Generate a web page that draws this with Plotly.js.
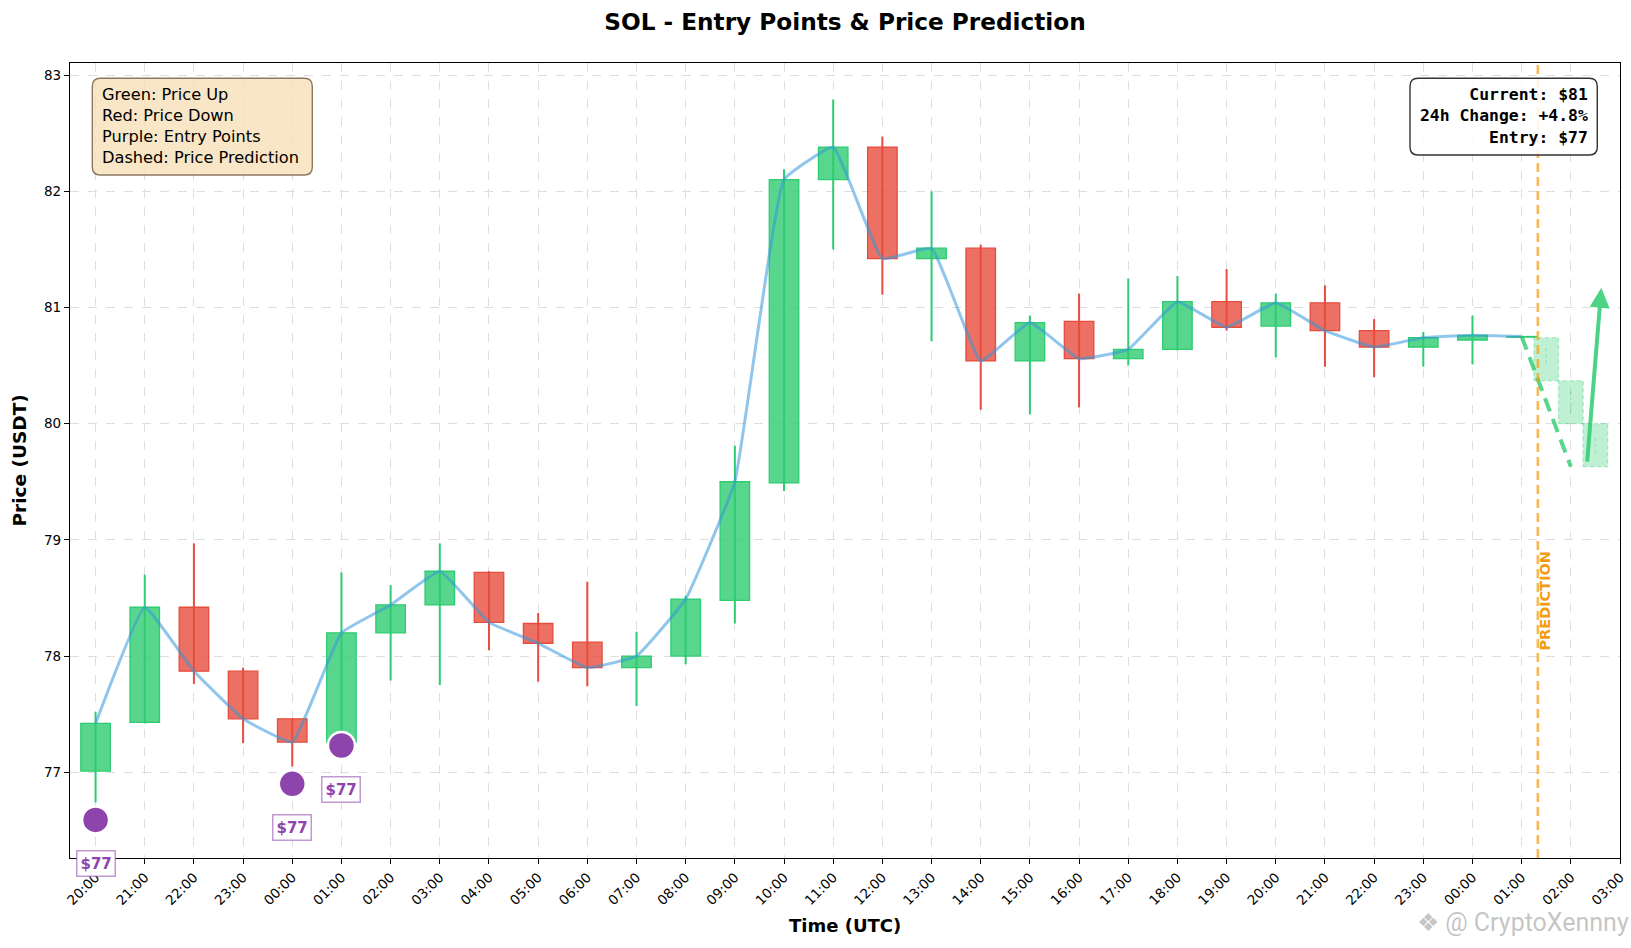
<!DOCTYPE html>
<html>
<head>
<meta charset="utf-8">
<script src="https://cdn.plot.ly/plotly-3.0.1.min.js"></script>
<style>html,body{margin:0;padding:0;background:#fff;}#chart{width:1631px;height:948px;}</style>
</head>
<body>
<div id="chart"></div>
<script>
// ---- data ----
const tickLabels = ['20:00','21:00','22:00','23:00','00:00','01:00','02:00','03:00','04:00','05:00','06:00','07:00','08:00','09:00','10:00','11:00','12:00','13:00','14:00','15:00','16:00','17:00','18:00','19:00','20:00','21:00','22:00','23:00','00:00','01:00','02:00','03:00'];
const openP  = [77.01,77.43,78.42,77.87,77.46,77.26,78.20,78.44,78.72,78.28,78.12,77.90,78.00,78.48,79.49,82.10,82.38,81.42,81.51,80.54,80.88,80.56,80.64,81.05,80.84,81.04,80.80,80.66,80.72,80.745];
const highP  = [77.52,78.70,78.97,77.90,77.46,78.72,78.61,78.97,78.73,78.37,78.64,78.21,78.52,79.81,82.19,82.79,82.47,82.00,81.54,80.93,81.12,81.25,81.27,81.33,81.12,81.19,80.90,80.79,80.93,80.75];
const lowP   = [76.74,77.42,77.76,77.25,77.05,77.24,77.79,77.75,78.05,77.78,77.74,77.57,77.93,78.28,79.42,81.50,81.11,80.71,80.12,80.08,80.14,80.50,80.63,80.80,80.57,80.49,80.40,80.49,80.51,80.745];
const closeP = [77.42,78.42,77.87,77.46,77.26,78.20,78.44,78.73,78.29,78.11,77.90,78.00,78.49,79.50,82.10,82.38,81.42,81.51,80.54,80.87,80.56,80.64,81.05,80.83,81.04,80.80,80.66,80.74,80.76,80.75];

const entryIdx = [0,4,5];
const entryPrice = [76.59,76.90,77.23];
const entryLabels = ['$77','$77','$77'];

const predX = [29.5,30.0,30.5];
const predOpen = [80.74,80.37,80.00];
const predClose = [80.37,80.00,79.63];
const predHigh = [80.68,80.28,79.89];
const predLow = [80.52,80.10,79.75];
const predLineX = [29,30];
const predLineY = [80.75,79.63];
const arrowFrom = [30.33,79.66];
const arrowTo = [30.62,81.17];
const predStartX = 29.33;
const predTextPos = [29.48,78.48];

const legendLines = ['Green: Price Up','Red: Price Down','Purple: Entry Points','Dashed: Price Prediction'];
const infoLines = ['Current: $81','24h Change: +4.8%','Entry: $77'];

// ---- styles ----
const GREEN = '#2ecc71', RED = '#e74c3c';
const xs = openP.map((_, i) => i);
const up = xs.map(i => closeP[i] >= openP[i]);

const traces = [];
// wicks
['up','down'].forEach(kind => {
  const wx = [], wy = [];
  xs.forEach(i => {
    if ((kind === 'up') === up[i]) { wx.push(i, i, null); wy.push(lowP[i], highP[i], null); }
  });
  traces.push({type:'scatter', mode:'lines', x:wx, y:wy, hoverinfo:'skip',
    line:{color: kind === 'up' ? GREEN : RED, width:2}});
});
// bodies
traces.push({
  type:'bar', x:xs,
  base: xs.map(i => Math.min(openP[i], closeP[i])),
  y: xs.map(i => Math.max(Math.abs(closeP[i]-openP[i]), 0.004)),
  width:0.6,
  marker:{color: xs.map(i => up[i] ? 'rgba(46,204,113,0.8)' : 'rgba(231,76,60,0.8)'),
          line:{color: xs.map(i => up[i] ? GREEN : RED), width:1.3}},
  hoverinfo:'skip'
});
// prediction boxes
predX.forEach((px, k) => {
  const top = Math.max(predOpen[k], predClose[k]), bot = Math.min(predOpen[k], predClose[k]);
  const hw = 0.25;
  traces.push({type:'scatter', mode:'lines', fill:'toself', fillcolor:'rgba(46,204,113,0.3)',
    x:[px-hw, px+hw, px+hw, px-hw, px-hw], y:[bot, bot, top, top, bot],
    line:{color:'rgba(46,204,113,0.35)', width:1.3, dash:'4px,3px'}, hoverinfo:'skip'});
  traces.push({type:'scatter', mode:'lines', x:[px,px], y:[predLow[k], predHigh[k]],
    line:{color:'rgba(46,204,113,0.3)', width:1.3, dash:'3px,3px'}, hoverinfo:'skip'});
});
// close line
traces.push({type:'scatter', mode:'lines', x:xs, y:closeP, hoverinfo:'skip',
  line:{color:'rgba(52,152,219,0.55)', width:3, shape:'spline', smoothing:0.3}});
// prediction dashed line
traces.push({type:'scatter', mode:'lines', x:predLineX, y:predLineY, hoverinfo:'skip',
  line:{color:'rgba(46,204,113,0.8)', width:4, dash:'14px,8px'}});
// entry markers
traces.push({type:'scatter', mode:'markers', x:entryIdx, y:entryPrice, hoverinfo:'skip',
  marker:{color:'#8e44ad', size:27, line:{color:'#ffffff', width:2.5}}});

// ---- layout helpers ----
const L = 70, T = 63, PW = 1550, PH = 795;
const px2x = p => (p - L) / PW;
const py2y = p => 1 - (p - T) / PH;
function roundRect(x0, y0, x1, y1, r) {
  const P = (x, y) => px2x(x).toFixed(5) + ',' + py2y(y).toFixed(5);
  return 'M' + P(x0+r,y0) + ' L' + P(x1-r,y0) + ' Q' + P(x1,y0) + ' ' + P(x1,y0+r) +
    ' L' + P(x1,y1-r) + ' Q' + P(x1,y1) + ' ' + P(x1-r,y1) +
    ' L' + P(x0+r,y1) + ' Q' + P(x0,y1) + ' ' + P(x0,y1-r) +
    ' L' + P(x0,y0+r) + ' Q' + P(x0,y0) + ' ' + P(x0+r,y0) + ' Z';
}

const shapes = [
  {type:'line', xref:'x', yref:'paper', x0:predStartX, x1:predStartX, y0:0, y1:1, layer:'above',
   line:{color:'rgba(243,156,18,0.7)', width:2.7, dash:'9px,5px'}},
  {type:'path', xref:'paper', yref:'paper', layer:'above', path: roundRect(92.3,78.3,312.3,175,8),
   fillcolor:'rgba(245,222,179,0.75)', line:{color:'#8b7b62', width:1.4}},
  {type:'path', xref:'paper', yref:'paper', layer:'above', path: roundRect(1410,78.3,1597.3,155,8),
   fillcolor:'rgba(255,255,255,0.85)', line:{color:'#333333', width:1.4}}
];

const annotations = [
  {xref:'paper', yref:'paper', x:px2x(101), y:py2y(84.3), xanchor:'left', yanchor:'top', align:'left',
   showarrow:false, text:legendLines.join('<br>'), font:{family:'DejaVu Sans', size:16.2, color:'#000'}, borderpad:0},
  {xref:'paper', yref:'paper', x:px2x(1589), y:py2y(83.6), xanchor:'right', yanchor:'top', align:'right',
   showarrow:false, text:infoLines.map(s => '<b>' + s + '</b>').join('<br>'),
   font:{family:'DejaVu Sans Mono', size:16.4, color:'#000'}, borderpad:0},
  {xref:'x', yref:'y', x:predTextPos[0], y:predTextPos[1], textangle:-90, showarrow:false,
   xanchor:'center', yanchor:'middle',
   text:'<b>PREDICTION</b>', font:{family:'DejaVu Sans', size:14.5, color:'#f39c12'}},
  {xref:'x', yref:'y', axref:'x', ayref:'y', x:arrowTo[0], y:arrowTo[1], ax:arrowFrom[0], ay:arrowFrom[1],
   showarrow:true, arrowhead:2, arrowsize:1, arrowwidth:4, arrowcolor:'rgba(46,204,113,0.85)', text:''},
  {xref:'paper', yref:'paper', x:px2x(845), y:py2y(925), xanchor:'center', yanchor:'middle', showarrow:false,
   text:'<b>Time (UTC)</b>', font:{family:'DejaVu Sans', size:18, color:'#000'}},
  {xref:'paper', yref:'paper', x:px2x(19), y:0.5, xanchor:'center', yanchor:'middle', textangle:-90, showarrow:false,
   text:'<b>Price (USDT)</b>', font:{family:'DejaVu Sans', size:18.5, color:'#000'}},
  {xref:'paper', yref:'paper', x:px2x(1631), y:py2y(922), xanchor:'right', yanchor:'middle', showarrow:false,
   text:'❖ @ CryptoXennny', font:{family:'Roboto', size:25, color:'rgba(140,140,140,0.5)'}}
];
entryIdx.forEach((xi, k) => {
  annotations.push({xref:'x', yref:'y', x:xi, y:entryPrice[k], yshift:-44, showarrow:false,
    xanchor:'center', yanchor:'middle',
    text:'<b>' + entryLabels[k] + '</b>', font:{family:'DejaVu Sans', size:15, color:'#8e44ad'},
    bgcolor:'#ffffff', bordercolor:'rgba(142,68,173,0.55)', borderwidth:1.5, borderpad:3});
});

const axisCommon = {showline:true, linecolor:'#000', linewidth:1.2, mirror:true, ticks:'outside', ticklen:5,
  tickcolor:'#000', showgrid:true, gridcolor:'#dedede', griddash:'dash', gridwidth:1, zeroline:false,
  tickfont:{family:'DejaVu Sans', size:13.5, color:'#000'}};

const layout = {
  width:1631, height:948,
  margin:{l:L, r:11, t:T, b:90},
  paper_bgcolor:'#ffffff', plot_bgcolor:'#ffffff',
  showlegend:false, barmode:'overlay',
  font:{family:'DejaVu Sans', color:'#000'},
  title:{text:'<b>SOL - Entry Points & Price Prediction</b>', font:{family:'DejaVu Sans', size:23.2, color:'#000'},
    x:0.5, xref:'paper', y:1 - 22/948, yref:'container', yanchor:'middle'},
  xaxis:Object.assign({}, axisCommon, {range:[-0.52,31], tickmode:'array',
    tickvals:tickLabels.map((_, i) => i), ticktext:tickLabels, tickangle:-45}),
  yaxis:Object.assign({}, axisCommon, {range:[76.262,83.104], tickmode:'array',
    tickvals:[77,78,79,80,81,82,83], ticktext:['77','78','79','80','81','82','83']}),
  shapes:shapes, annotations:annotations
};

Plotly.newPlot('chart', traces, layout, {displayModeBar:false, staticPlot:true});
</script>
</body>
</html>
